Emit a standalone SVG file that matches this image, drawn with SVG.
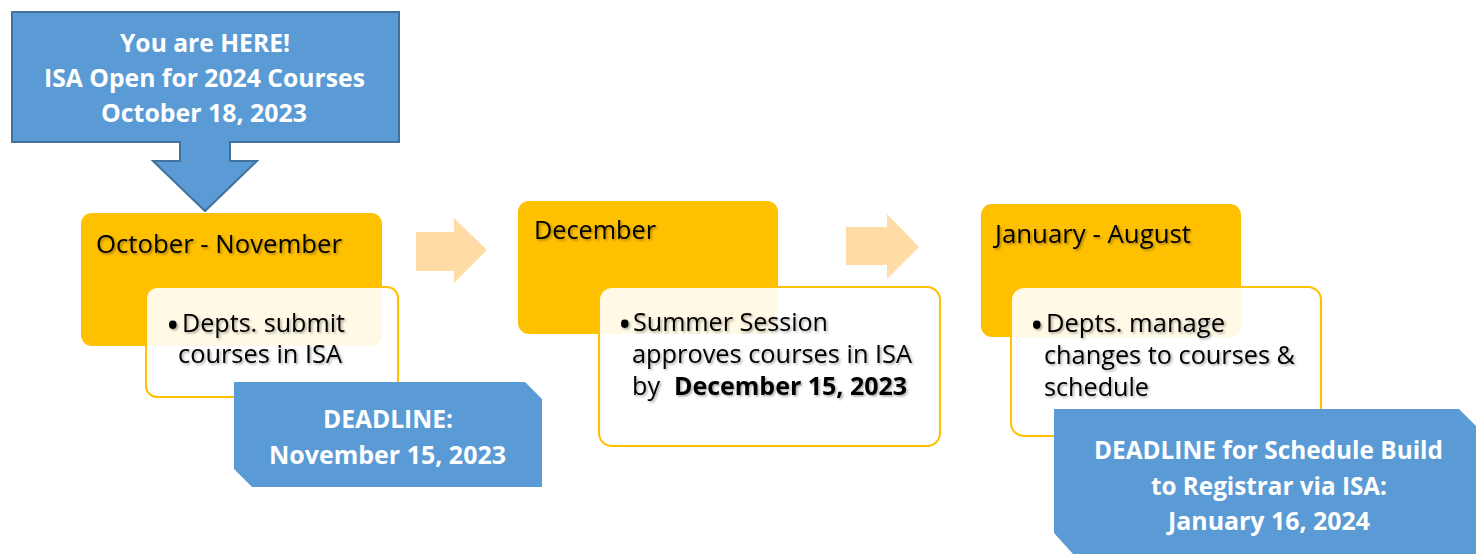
<svg xmlns="http://www.w3.org/2000/svg" width="1476" height="554" viewBox="0 0 1476 554">
<defs>
<filter id="sh" x="-5%" y="-20%" width="110%" height="150%">
<feDropShadow dx="1.5" dy="1.5" stdDeviation="1" flood-color="#000" flood-opacity="0.35"/>
</filter>
</defs>
<style>
.blue{fill:#5B9BD5}
.orange{fill:#FFC000}
.card{fill:#FFFFFF;fill-opacity:0.9;stroke:#FFC000;stroke-width:2}
.arrow{fill:#FFDBA6}
.wt{font-family:"Open Sans","Noto Sans",sans-serif;font-weight:bold;fill:#FFFFFF;font-size:25px}
.bt{font-family:"Open Sans","Noto Sans",sans-serif;fill:#000000;font-size:25px;filter:url(#sh)}
.bul{font-size:36px}
.bb{font-weight:bold}
</style>
<rect width="1476" height="554" fill="#FFFFFF"/>

<g id="callout-here">
<path class="blue" d="M12,12 H399 V142 H230 V161 H257 L205,211 L153,161 H180 V142 H12 Z" stroke="#41719C" stroke-width="2"/>
<text class="wt" x="120" y="52" textLength="170" lengthAdjust="spacingAndGlyphs">You are HERE!</text>
<text class="wt" x="44" y="87" textLength="321" lengthAdjust="spacingAndGlyphs">ISA Open for 2024 Courses</text>
<text class="wt" x="101" y="122" textLength="206" lengthAdjust="spacingAndGlyphs">October 18, 2023</text>
</g>

<g id="connectors">
<path class="arrow" d="M416,232 H454 V218 L487,250 L454,283 V271 H416 Z"/>
<path class="arrow" d="M846,227 H887 V214 L919,247 L887,279 V265 H846 Z"/>
</g>

<g id="step-oct-nov">
<rect class="orange" x="81" y="213" width="301" height="133" rx="11"/>
<text class="bt" x="96" y="253" textLength="246" lengthAdjust="spacingAndGlyphs">October - November</text>
<rect class="card" x="146" y="287" width="252" height="110" rx="11"/>
<text class="bt bul" x="166" y="338">•</text>
<text class="bt" x="182" y="332" textLength="163" lengthAdjust="spacingAndGlyphs">Depts. submit</text>
<text class="bt" x="178" y="363" textLength="164" lengthAdjust="spacingAndGlyphs">courses in ISA</text>
</g>

<g id="deadline-nov">
<path class="blue" d="M234,382 H525 L542,399 V487 H252 L234,469 Z"/>
<text class="wt" x="323" y="428" textLength="130" lengthAdjust="spacingAndGlyphs">DEADLINE:</text>
<text class="wt" x="269" y="464" textLength="237" lengthAdjust="spacingAndGlyphs">November 15, 2023</text>
</g>

<g id="step-dec">
<rect class="orange" x="518" y="201" width="260" height="133" rx="11"/>
<text class="bt" x="534" y="239" textLength="122" lengthAdjust="spacingAndGlyphs">December</text>
<rect class="card" x="599" y="287" width="341" height="159" rx="13"/>
<text class="bt bul" x="618" y="337">•</text>
<text class="bt" x="633" y="331" textLength="195" lengthAdjust="spacingAndGlyphs">Summer Session</text>
<text class="bt" x="632" y="363" textLength="280" lengthAdjust="spacingAndGlyphs">approves courses in ISA</text>
<text class="bt" y="395"><tspan x="632" textLength="28" lengthAdjust="spacingAndGlyphs">by</tspan><tspan class="bb" x="674" textLength="233" lengthAdjust="spacingAndGlyphs">December 15, 2023</tspan></text>
</g>

<g id="step-jan-aug">
<rect class="orange" x="981" y="204" width="260" height="133" rx="11"/>
<text class="bt" x="995" y="243" textLength="196" lengthAdjust="spacingAndGlyphs">January - August</text>
<rect class="card" x="1011" y="287" width="310" height="149" rx="13"/>
<text class="bt bul" x="1030" y="338">•</text>
<text class="bt" x="1046" y="332" textLength="179" lengthAdjust="spacingAndGlyphs">Depts. manage</text>
<text class="bt" x="1044" y="364" textLength="251" lengthAdjust="spacingAndGlyphs">changes to courses &amp;</text>
<text class="bt" x="1044" y="396" textLength="105" lengthAdjust="spacingAndGlyphs">schedule</text>
</g>

<g id="deadline-jan">
<path class="blue" d="M1054,409 H1459 L1476,426 V554 H1073 L1054,533 Z"/>
<text class="wt" x="1094" y="459" textLength="349" lengthAdjust="spacingAndGlyphs">DEADLINE for Schedule Build</text>
<text class="wt" x="1151" y="495" textLength="236" lengthAdjust="spacingAndGlyphs">to Registrar via ISA:</text>
<text class="wt" x="1168" y="530" textLength="202" lengthAdjust="spacingAndGlyphs">January 16, 2024</text>
</g>
</svg>
